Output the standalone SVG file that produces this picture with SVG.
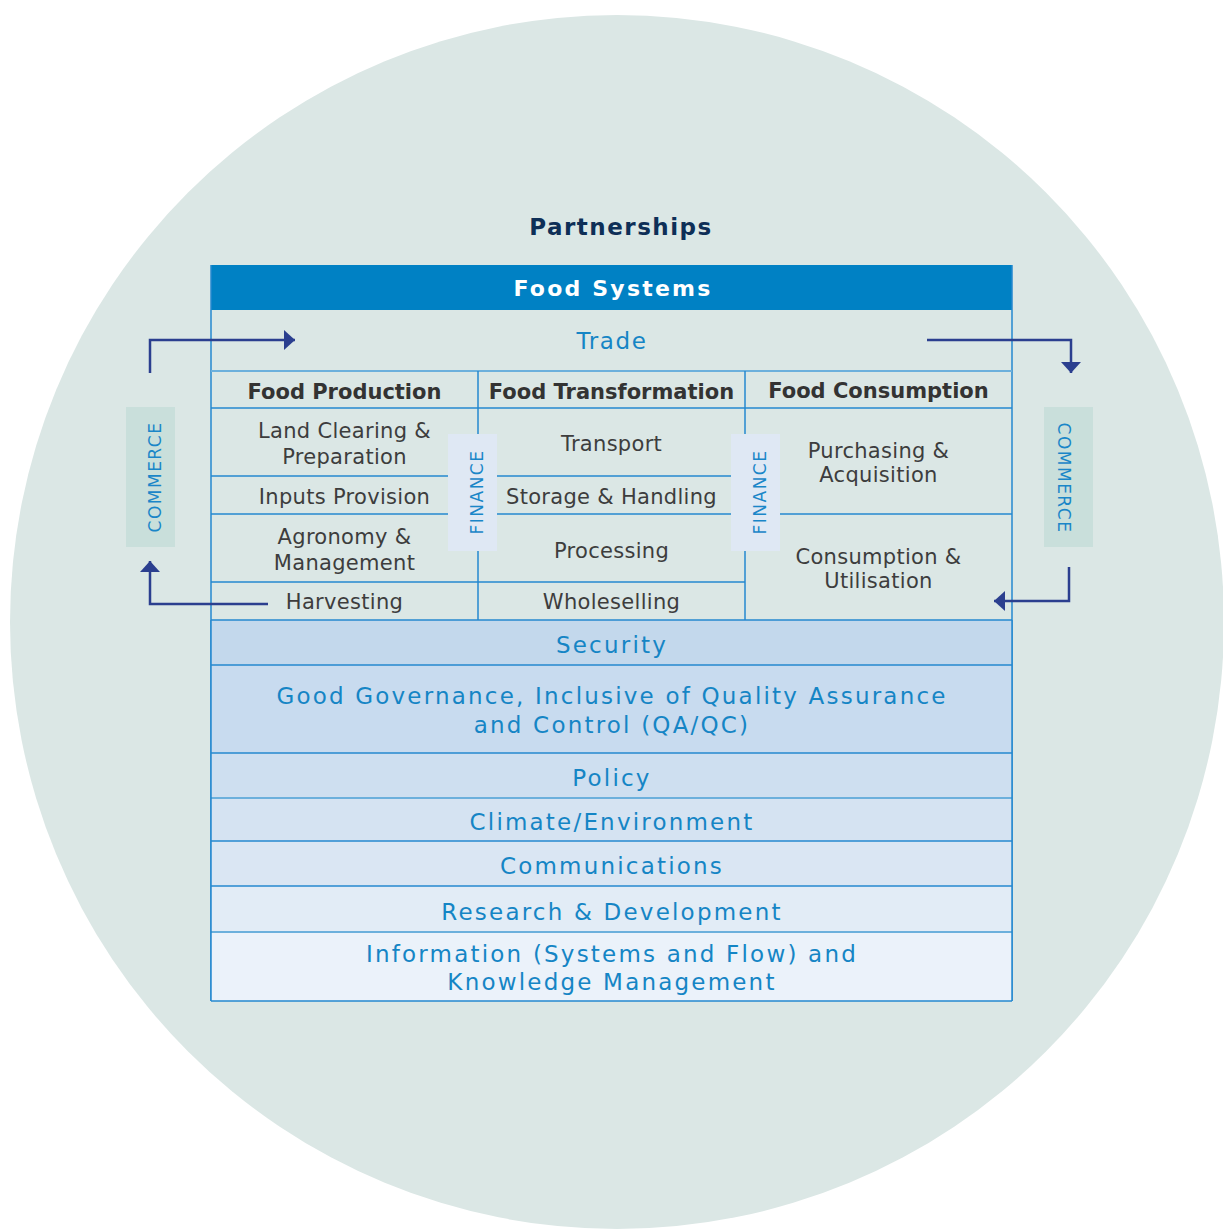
<svg xmlns="http://www.w3.org/2000/svg" width="1223" height="1229" viewBox="0 0 1223 1229">
<style>
text{font-family:"DejaVu Sans",Verdana,sans-serif;}
.body{font-size:21px;fill:#3d3d3d;text-anchor:middle;letter-spacing:0.3px;}
.hdr{font-size:21px;font-weight:bold;fill:#333333;text-anchor:middle;}
.band{font-size:23px;fill:#1585c5;text-anchor:middle;letter-spacing:2.2px;}
.vert{font-size:17px;fill:#1a86c8;text-anchor:middle;letter-spacing:1.5px;}
.grid{stroke:#2589cf;stroke-width:1.5;fill:none;}
.light{stroke:#6cb0dc;stroke-width:2;fill:none;}
.conn{stroke:#2b3f8f;stroke-width:2.5;fill:none;}
.fin{fill:#dfe8f4;}
.com{fill:#c9dfdb;}
</style>
<defs>
<marker id="ah" markerUnits="userSpaceOnUse" markerWidth="12" markerHeight="20" refX="11" refY="10" orient="auto">
<path d="M0,0 L11,10 L0,20 z" fill="#2b3f8f"/>
</marker>
</defs>
<rect width="1223" height="1229" fill="#ffffff"/>
<circle id="background" cx="617" cy="622" r="607" fill="#dbe7e5"/>

<g id="partnerships">
<text x="621" y="235" style="font-size:23px;font-weight:bold;fill:#0e2f57;text-anchor:middle;letter-spacing:1.5px;">Partnerships</text>
</g>

<g id="food-systems">
<rect x="211" y="265" width="801" height="45" fill="#0081c4"/>
<text x="613" y="296" style="font-size:22px;font-weight:bold;fill:#ffffff;text-anchor:middle;letter-spacing:2.2px;">Food Systems</text>
</g>

<g id="trade">
<text x="612" y="349" style="font-size:23px;fill:#1585c5;text-anchor:middle;letter-spacing:1.6px;">Trade</text>
</g>

<g id="grid">
<line class="grid" x1="211" y1="265" x2="211" y2="1001"/>
<line class="grid" x1="1012" y1="265" x2="1012" y2="1001"/>
<line class="light" x1="211" y1="371" x2="1012" y2="371"/>
<line class="grid" x1="211" y1="408" x2="1012" y2="408"/>
<line class="grid" x1="478" y1="371" x2="478" y2="620"/>
<line class="grid" x1="745" y1="371" x2="745" y2="620"/>
<line class="grid" x1="211" y1="476" x2="745" y2="476"/>
<line class="grid" x1="211" y1="514" x2="1012" y2="514"/>
<line class="grid" x1="211" y1="582" x2="745" y2="582"/>
</g>

<g id="col-headers">
<text class="hdr" x="344.5" y="399">Food Production</text>
<text class="hdr" x="611.5" y="399">Food Transformation</text>
<text class="hdr" x="878.5" y="398">Food Consumption</text>
</g>

<g id="land-clearing"><text class="body" x="344.5" y="438">Land Clearing &amp;</text><text class="body" x="344.5" y="463.5">Preparation</text></g>
<g id="inputs-provision"><text class="body" x="344.5" y="504">Inputs Provision</text></g>
<g id="agronomy"><text class="body" x="344.5" y="544">Agronomy &amp;</text><text class="body" x="344.5" y="569.5">Management</text></g>
<g id="harvesting"><text class="body" x="344.5" y="608.5">Harvesting</text></g>
<g id="transport"><text class="body" x="611.5" y="451">Transport</text></g>
<g id="storage"><text class="body" x="611.5" y="504">Storage &amp; Handling</text></g>
<g id="processing"><text class="body" x="611.5" y="557.5">Processing</text></g>
<g id="wholeselling"><text class="body" x="611.5" y="609">Wholeselling</text></g>
<g id="purchasing"><text class="body" x="878.5" y="457.5">Purchasing &amp;</text><text class="body" x="878.5" y="482">Acquisition</text></g>
<g id="consumption"><text class="body" x="878.5" y="563.5">Consumption &amp;</text><text class="body" x="878.5" y="588">Utilisation</text></g>

<g id="finance-left">
<rect class="fin" x="448" y="434" width="49" height="117"/>
<text class="vert" transform="translate(483,492) rotate(-90)">FINANCE</text>
</g>
<g id="finance-right">
<rect class="fin" x="731" y="434" width="49" height="117"/>
<text class="vert" transform="translate(766,492) rotate(-90)">FINANCE</text>
</g>

<g id="commerce-left">
<rect class="com" x="126" y="407" width="49" height="140"/>
<text class="vert" transform="translate(161,477) rotate(-90)">COMMERCE</text>
</g>
<g id="commerce-right">
<rect class="com" x="1044" y="407" width="49" height="140"/>
<text class="vert" transform="translate(1058,478) rotate(90)">COMMERCE</text>
</g>

<g id="security">
<rect x="211" y="620" width="801" height="45" fill="#c3d8ec"/>
<text class="band" x="612" y="653">Security</text>
</g>
<g id="governance">
<rect x="211" y="665" width="801" height="88" fill="#c8dbef"/>
<text class="band" x="612" y="704">Good Governance, Inclusive of Quality Assurance</text>
<text class="band" x="612" y="733">and Control (QA/QC)</text>
</g>
<g id="policy">
<rect x="211" y="753" width="801" height="45" fill="#cedff0"/>
<text class="band" x="612" y="786">Policy</text>
</g>
<g id="climate">
<rect x="211" y="798" width="801" height="43" fill="#d5e3f2"/>
<text class="band" x="612" y="830">Climate/Environment</text>
</g>
<g id="communications">
<rect x="211" y="841" width="801" height="45" fill="#dae6f3"/>
<text class="band" x="612" y="874">Communications</text>
</g>
<g id="research">
<rect x="211" y="886" width="801" height="46" fill="#e2ecf6"/>
<text class="band" x="612" y="919.5">Research &amp; Development</text>
</g>
<g id="information">
<rect x="211" y="932" width="801" height="69" fill="#ebf2fa"/>
<text class="band" x="612" y="962">Information (Systems and Flow) and</text>
<text class="band" x="612" y="990">Knowledge Management</text>
</g>

<g id="band-lines">
<line class="grid" x1="211" y1="620" x2="1012" y2="620"/>
<line class="grid" x1="211" y1="665" x2="1012" y2="665"/>
<line class="grid" x1="211" y1="753" x2="1012" y2="753"/>
<line class="light" x1="211" y1="798" x2="1012" y2="798"/>
<line class="grid" x1="211" y1="841" x2="1012" y2="841"/>
<line class="grid" x1="211" y1="886" x2="1012" y2="886"/>
<line class="light" x1="211" y1="932" x2="1012" y2="932"/>
<line class="grid" x1="211" y1="1001" x2="1012" y2="1001"/>
<line class="grid" x1="211" y1="620" x2="211" y2="1001"/>
<line class="grid" x1="1012" y1="620" x2="1012" y2="1001"/>
</g>

<g id="connectors">
<path class="conn" d="M150,373 V340 H295" marker-end="url(#ah)"/>
<path class="conn" d="M268,604 H150 V561" marker-end="url(#ah)"/>
<path class="conn" d="M927,340 H1071 V373" marker-end="url(#ah)"/>
<path class="conn" d="M1069,567 V601 H994" marker-end="url(#ah)"/>
</g>
</svg>
